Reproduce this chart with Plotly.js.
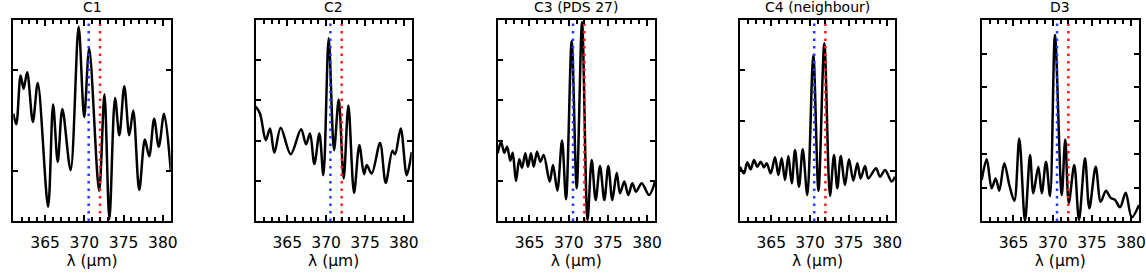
<!DOCTYPE html>
<html><head><meta charset="utf-8">
<script src="https://cdn.plot.ly/plotly-3.0.1.min.js"></script>
<style>html,body{margin:0;padding:0;background:#fff;} #chart{width:1146px;height:273px;}</style>
</head><body><div id="chart"></div>
<script>
// ---- data (wavelength in micron, flux in arbitrary units) ----
const panelTitles = ["C1", "C2", "C3 (PDS 27)", "C4 (neighbour)", "D3"];
const xTickVals = [365, 370, 375, 380];
const lineBlue = 370.55;
const lineRed = 372.0;

const c1_x = [360.95, 361.33, 361.88, 362.26, 362.72, 363.44, 364.07, 365.38, 366.02, 366.61, 367.20, 368.25, 369.27, 369.98, 370.62, 371.88, 372.56, 373.19, 373.91, 374.46, 375.09, 375.72, 376.23, 376.99, 377.71, 378.26, 378.89, 379.48, 380.16, 381.00];
const c1_y = [53.5, 48.1, 72.4, 65.8, 74.0, 49.3, 68.6, 7.1, 58.0, 29.4, 55.7, 25.3, 96.7, 51.7, 86.0, 15.0, 63.0, 1.0, 61.2, 42.6, 67.1, 42.6, 55.0, 15.4, 40.5, 32.2, 50.9, 36.9, 53.4, 25.3];

const c2_x = [360.95, 361.51, 362.24, 362.79, 363.35, 364.16, 365.45, 366.78, 367.42, 367.93, 368.49, 369.13, 369.65, 370.33, 371.02, 371.62, 372.26, 372.86, 373.59, 374.27, 374.87, 375.22, 375.86, 376.93, 377.66, 378.52, 378.86, 379.59, 380.36, 381.00];
const c2_y = [57.0, 53.4, 40.2, 46.0, 33.9, 46.4, 33.2, 45.6, 38.2, 43.5, 28.3, 43.5, 22.8, 90.9, 35.2, 60.5, 21.2, 57.5, 14.0, 37.7, 23.3, 27.8, 23.6, 38.8, 19.0, 34.9, 33.2, 46.0, 22.8, 34.4];

const c3_x = [360.95, 361.37, 361.79, 362.14, 362.56, 362.86, 363.28, 363.70, 364.05, 364.47, 364.81, 365.19, 365.54, 365.96, 366.38, 366.81, 367.58, 368.00, 368.55, 369.15, 369.66, 370.38, 371.02, 371.70, 372.40, 372.93, 373.44, 373.99, 374.54, 375.05, 375.56, 376.12, 376.54, 377.09, 377.60, 378.11, 378.58, 379.31, 380.24, 381.00];
const c3_y = [33.7, 39.3, 34.0, 37.0, 30.0, 34.0, 19.9, 30.7, 26.5, 33.7, 27.0, 33.7, 27.0, 34.5, 29.5, 32.8, 19.6, 27.9, 15.1, 40.0, 10.8, 89.5, 16.3, 99.0, 0.5, 30.3, 10.4, 27.4, 10.4, 27.4, 10.4, 24.0, 13.8, 19.6, 12.9, 18.8, 14.6, 18.8, 12.9, 19.6];

const c4_x = [360.95, 361.47, 361.89, 362.33, 362.76, 363.19, 363.63, 364.05, 364.40, 364.92, 365.48, 365.91, 366.34, 366.77, 367.20, 367.64, 368.07, 368.58, 369.06, 369.66, 370.43, 371.10, 371.86, 372.59, 373.11, 373.54, 373.98, 374.53, 375.05, 375.61, 376.13, 376.56, 377.12, 377.55, 378.54, 379.06, 379.71, 380.57, 381.00];
const c4_y = [27.0, 23.7, 29.2, 25.7, 30.3, 27.0, 29.5, 26.7, 28.7, 23.7, 31.7, 22.9, 31.2, 20.4, 32.3, 18.8, 35.3, 17.1, 35.7, 12.9, 82.6, 15.0, 88.4, 12.5, 32.8, 16.3, 32.3, 17.9, 30.7, 20.0, 28.7, 21.2, 27.4, 21.2, 26.2, 22.0, 25.4, 19.6, 22.0];

const d3_x = [360.95, 361.59, 362.22, 362.73, 363.19, 363.83, 364.47, 365.11, 365.74, 366.47, 367.11, 367.53, 368.17, 368.60, 369.15, 369.66, 370.29, 371.15, 371.60, 372.05, 372.75, 373.35, 374.12, 374.67, 375.48, 376.12, 376.79, 377.39, 377.95, 378.58, 379.31, 380.07, 381.00];
const d3_y = [20.4, 30.7, 16.3, 21.2, 15.1, 28.7, 17.9, 10.0, 41.1, 0.0, 32.8, 13.8, 27.0, 13.8, 29.5, 12.4, 92.5, 12.9, 40.6, 9.0, 27.9, 0.5, 31.2, 6.3, 27.0, 9.6, 15.1, 11.5, 10.5, 6.8, 14.1, 1.8, 8.0];

// ---- layout / styling ----
const seriesX = [c1_x, c2_x, c3_x, c4_x, d3_x];
const seriesY = [c1_y, c2_y, c3_y, c4_y, d3_y];
const yTickSets = [[25, 75], [20, 40, 60, 80], [20, 40, 60, 80], [25, 50, 75], [16.667, 33.333, 50, 66.667, 83.333]];
const W = 1146, H = 273;
const pxDomains = [[13.3, 170.7], [255.7, 411.7], [497.7, 655], [740, 895], [981.7, 1139]];
const yDomain = [(H - 221) / H, (H - 20) / H];
const FONT = "DejaVu Sans, Liberation Sans, Arial, sans-serif";

const traces = [];
const layout = {
  width: W, height: H,
  margin: {l: 0, r: 0, t: 0, b: 0, pad: 0},
  paper_bgcolor: "#ffffff", plot_bgcolor: "#ffffff",
  showlegend: false,
  font: {family: FONT, color: "#000000", size: 15.5},
  annotations: []
};

for (let i = 0; i < 5; i++) {
  const s = i === 0 ? "" : String(i + 1);
  const xa = "x" + s, ya = "y" + s;
  traces.push({x: seriesX[i], y: seriesY[i], xaxis: xa, yaxis: ya, type: "scatter", mode: "lines",
    line: {color: "#000000", width: 2.5, shape: "spline", smoothing: 0.9}, hoverinfo: "skip"});
  traces.push({x: [lineBlue, lineBlue], y: [0, 100], xaxis: xa, yaxis: ya, type: "scatter", mode: "lines",
    line: {color: "#1f3cff", width: 2.5, dash: "2.5px,5px"}, hoverinfo: "skip"});
  traces.push({x: [lineRed, lineRed], y: [0, 100], xaxis: xa, yaxis: ya, type: "scatter", mode: "lines",
    line: {color: "#ff1a1a", width: 2.5, dash: "2.5px,5px"}, hoverinfo: "skip"});

  layout["xaxis" + s] = {
    domain: [pxDomains[i][0] / W, pxDomains[i][1] / W],
    anchor: ya, range: [360.95, 381.0],
    showline: true, linewidth: 2, linecolor: "#000000", mirror: "ticks",
    ticks: "inside", ticklen: 6, tickwidth: 2, tickcolor: "#000000",
    tickmode: "linear", tick0: xTickVals[0], dtick: xTickVals[1] - xTickVals[0],
    minor: {tickmode: "linear", tick0: xTickVals[0], dtick: 1, ticks: "inside", ticklen: 4, tickwidth: 2, tickcolor: "#000000", showgrid: false},
    showgrid: false, zeroline: false,
    tickfont: {family: FONT, size: 15.5, color: "#000000"},
    ticklabelstandoff: 6,
    title: {text: "λ (µm)", font: {family: FONT, size: 15.5, color: "#000000"}, standoff: 3}
  };
  layout["yaxis" + s] = {
    domain: yDomain, anchor: xa, range: [0, 100],
    showline: true, linewidth: 2, linecolor: "#000000", mirror: "ticks",
    ticks: "inside", ticklen: 5, tickwidth: 2, tickcolor: "#000000",
    tickmode: "array", tickvals: yTickSets[i], showticklabels: false,
    showgrid: false, zeroline: false
  };
  layout.annotations.push({
    text: panelTitles[i], xref: xa + " domain", yref: "paper", x: 0.5, y: (H - 17) / H,
    xanchor: "center", yanchor: "bottom", showarrow: false,
    font: {family: FONT, size: 14, color: "#000000"}
  });
}

Plotly.newPlot("chart", traces, layout, {staticPlot: true, displayModeBar: false});
</script>
</body></html>
